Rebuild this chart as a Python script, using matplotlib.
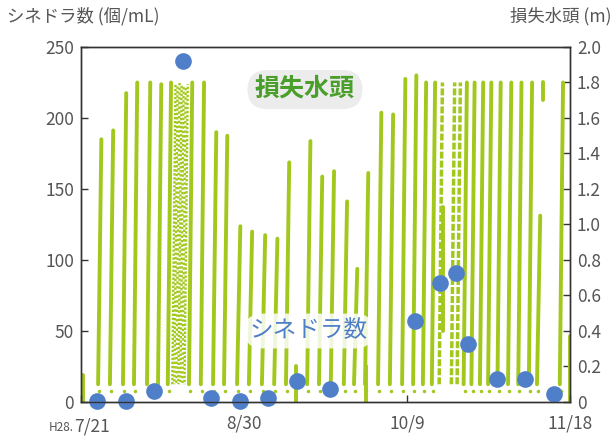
import matplotlib.pyplot as plt

plt.rcParams['font.family'] = ['Noto Sans CJK JP', 'DejaVu Sans']

# シネドラ数 (個/mL), days since H28.7/21
count_day = [4, 11, 18, 25, 32, 39, 46, 53, 61, 82, 88, 92, 95, 102, 109, 116]
count_val = [0.5, 0.5, 8, 240, 3, 1, 3, 15, 9, 57, 84, 91, 41, 16, 16, 5.5]

# 損失水頭 (m): filter runs, day the run starts and head at its end
cycle_day = [4.2, 7.1, 10.3, 13.0, 16.2, 18.9, 21.3, 26.5, 29.4, 32.4, 35.1,
             38.3, 41.2, 44.4, 47.4, 50.3, 55.5, 58.4, 61.3, 64.5, 67.0, 69.7,
             72.9, 75.8, 78.8, 81.5, 83.9, 86.1, 93.9, 95.8, 97.9, 99.9, 102.2,
             104.8, 107.3, 109.9, 111.9, 117.5]
cycle_peak = [1.48, 1.53, 1.74, 1.80, 1.80, 1.79, 1.80, 1.80, 1.80, 1.52, 1.50,
              0.99, 0.96, 0.94, 0.92, 1.35, 1.47, 1.27, 1.30, 1.13, 0.75, 1.29,
              1.63, 1.62, 1.82, 1.84, 1.80, 1.80, 1.80, 1.80, 1.80, 1.80, 1.80,
              1.80, 1.80, 1.80, 1.05, 1.80]
# dense noisy runs around 8/12-8/15
band_day = [22.4, 22.9, 23.4, 23.9, 24.4, 24.9, 25.4]
band_peak = [1.79, 1.78, 1.80, 1.79, 1.78, 1.77, 1.79]
# runs logged as sparse points
dotted_day = [87.9, 90.9, 92.3]
dotted_peak = [1.80, 1.80, 1.80]
# broken pieces of runs
seg_day = [88.8, 113.5, 119.9, 52.8, 0.6, 70.0]
seg_lo = [0.40, 1.70, 0.00, 0.00, 0.00, 0.00]
seg_hi = [1.10, 1.80, 0.37, 0.20, 0.15, 0.20]

start_head = 0.1
rise = 0.8
green = '#a2c81e'
blue = '#4f7fc9'
grey = '#555555'

fig = plt.figure(figsize=(6.15, 4.37), dpi=100)
ax = fig.add_axes([0.1317, 0.0801, 0.7951, 0.8124])
ax2 = ax.twinx()
ax.set_zorder(ax2.get_zorder() + 1)
ax.patch.set_visible(False)
ax2.set_facecolor('#fbfcfc')

for d, p in zip(cycle_day, cycle_peak):
    ax2.plot([d, d + rise], [start_head, p], color=green, lw=2.8, solid_capstyle='round')
    ax2.plot(d + 0.3, 0.06, 'o', ms=2.5, color=green, mec='none')
for i, (d, p) in enumerate(zip(band_day, band_peak)):
    ax2.plot([d, d + rise], [start_head, p], color=green, lw=1.7,
             ls=(i * 0.7, (1.0, 0.7 + 0.15 * (i % 3))))
for d, p in zip(dotted_day, dotted_peak):
    ax2.plot([d, d + rise], [start_head, p], color=green, lw=2.5, ls=(0, (2.0, 0.6)))
for d, lo, hi in zip(seg_day, seg_lo, seg_hi):
    ax2.plot([d, d], [lo, hi], color=green, lw=2.8, solid_capstyle='round')

ax.plot(count_day, count_val, 'o', ms=12, color=blue, mec='none', clip_on=False)

ax.set_xlim(0, 120)
ax.set_ylim(0, 250)
ax2.set_ylim(0, 2.0)
ax.set_yticks([0, 50, 100, 150, 200, 250])
ax2.set_yticks([i / 5 for i in range(11)])
ax2.set_yticklabels(['0'] + ['%.1f' % (i / 5) for i in range(1, 11)])
ax.set_xticks([0, 40, 80, 120])
ax.set_xticklabels(['', '8/30', '10/9', '11/18'])

for a in (ax, ax2):
    a.tick_params(direction='in', length=5, width=1, colors='#333333',
                  labelcolor=grey, labelsize=12.5, pad=5)
    for s in a.spines.values():
        s.set_color('#333333')
        s.set_linewidth(1)
ax.tick_params(axis='x', pad=9)

ax.annotate('7/21', xy=(0, 0), xycoords=('data', 'axes fraction'),
            xytext=(-5, -11), textcoords='offset points', ha='left', va='top',
            fontsize=12.5, color=grey)
ax.annotate('H28.', xy=(0, 0), xycoords=('data', 'axes fraction'),
            xytext=(-5, -14), textcoords='offset points', ha='right', va='top',
            fontsize=8.5, color=grey)

fig.text(0.012, 0.962, 'シネドラ数 (個/mL)', fontsize=12.5, color=grey, va='center')
fig.text(0.995, 0.962, '損失水頭 (m)', fontsize=12.5, color=grey, va='center', ha='right')

ax.text(0.458, 0.88, '損失水頭', transform=ax.transAxes, fontsize=18, color='#4a9e2a',
        weight='bold', ha='center', va='center',
        bbox=dict(boxstyle='round,pad=0.3,rounding_size=0.8', fc='#ececec', ec='none'))
ax.text(0.466, 0.2, 'シネドラ数', transform=ax.transAxes, fontsize=17, color='#4f7fc9',
        ha='center', va='center',
        bbox=dict(boxstyle='round,pad=0.25,rounding_size=0.8', fc='white', ec='none', alpha=0.85))

fig.savefig('out.png', dpi=100)
